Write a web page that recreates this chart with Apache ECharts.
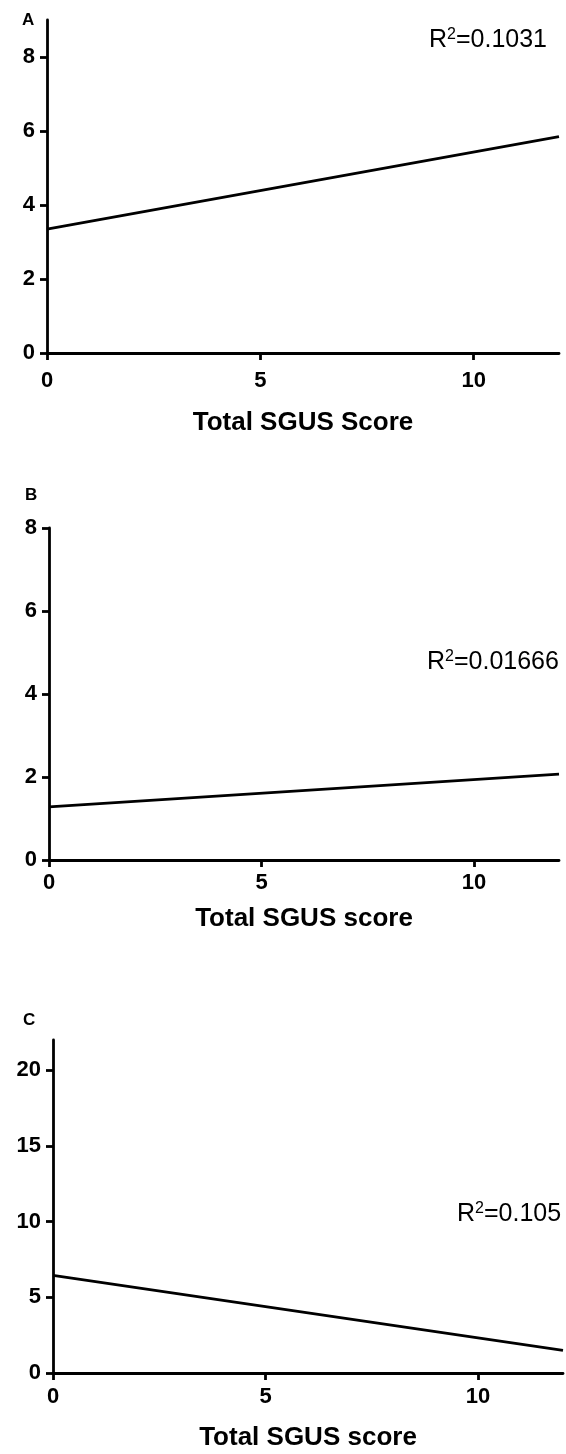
<!DOCTYPE html>
<html lang="en">
<head>
    <meta charset="UTF-8">
    <title>SGUS</title>
    <script src="https://cdn.jsdelivr.net/npm/echarts@6/dist/echarts.min.js"></script>
    <style>
        html,body{margin:0;padding:0;background:#fff;}
        #main{width:566px;height:1454px;}
    </style>
</head>
<body>
<div id="main"></div>
<script>
    // x ticks shared by all three panels
    var xTicks = [0, 5, 10];
    var xTitles = ['Total SGUS Score', 'Total SGUS score', 'Total SGUS score'];
    var panelNames = ['A', 'B', 'C'];
    var r2Text = ['0.1031', '0.01666', '0.105'];

    // regression lines, [x, y] at both ends
    var lineA = [[0, 3.35], [12, 5.85]];
    var lineB = [[0, 1.28], [12, 2.07]];
    var lineC = [[0, 6.45], [12, 1.5]];

    var yTicksA = [0, 2, 4, 6, 8];
    var yTicksB = [0, 2, 4, 6, 8];
    var yTicksC = [0, 5, 10, 15, 20];
    var yMax = [9, 8, 22];

    var lines = [lineA, lineB, lineC];
    var yTicks = [yTicksA, yTicksB, yTicksC];

    // outerBoundsMode none: keep the plot areas where they are set
    var grids = [
        {left: 47, top: 20, width: 512, height: 333, outerBoundsMode: 'none'},
        {left: 49, top: 528, width: 510, height: 332, outerBoundsMode: 'none'},
        {left: 53, top: 1040, width: 510, height: 333, outerBoundsMode: 'none'}
    ];
    var labelMargin = [17, 12, 13];
    var nameGap = [57, 46, 52];

    var black = {color: '#000', width: 2.8};
    var labelFont = {color: '#000', fontSize: 22, fontWeight: 'bold', fontFamily: 'Liberation Sans'};

    var xAxes = [], yAxes = [], series = [];
    for (var i = 0; i < 3; i++) {
        xAxes.push({
            gridIndex: i, type: 'value', min: 0, max: 12,
            name: xTitles[i], nameLocation: 'middle', nameGap: nameGap[i],
            nameTextStyle: {color: '#000', fontSize: 26, fontWeight: 'bold', fontFamily: 'Liberation Sans'},
            axisLine: {lineStyle: black},
            axisTick: {show: true, length: 7, lineStyle: black, customValues: xTicks},
            axisLabel: Object.assign({margin: labelMargin[i], customValues: xTicks}, labelFont),
            splitLine: {show: false}
        });
        yAxes.push({
            gridIndex: i, type: 'value', min: 0, max: yMax[i],
            axisLine: {show: true, lineStyle: black},
            axisTick: {show: true, length: 7, lineStyle: black, customValues: yTicks[i]},
            axisLabel: Object.assign({margin: 12, customValues: yTicks[i]}, labelFont),
            splitLine: {show: false}
        });
        series.push({
            type: 'line', xAxisIndex: i, yAxisIndex: i,
            data: lines[i], symbol: 'none', silent: true,
            lineStyle: black
        });
    }

    // panel letters and R² labels
    var graphics = [];
    var letterPos = [[22, 12], [25, 487], [23, 1012]];
    var r2Pos = [[429, 27], [427, 649], [457, 1201]];
    for (var j = 0; j < 3; j++) {
        graphics.push({
            type: 'text', left: letterPos[j][0], top: letterPos[j][1],
            style: {text: panelNames[j], fill: '#000', font: 'bold 17px "Liberation Sans"'}
        });
        graphics.push({
            type: 'text', left: r2Pos[j][0], top: r2Pos[j][1],
            style: {
                text: '{r|R}{s|2}{r|=' + r2Text[j] + '}',
                rich: {
                    r: {fontSize: 25, fontFamily: 'Liberation Sans', fill: '#000', verticalAlign: 'bottom'},
                    s: {fontSize: 16, fontFamily: 'Liberation Sans', fill: '#000', verticalAlign: 'top', padding: [0, 0, 10, 0]}
                }
            }
        });
    }

    var myChart = echarts.init(document.getElementById('main'));
    myChart.setOption({
        animation: false,
        grid: grids,
        xAxis: xAxes,
        yAxis: yAxes,
        series: series,
        graphic: graphics
    });
</script>
</body>
</html>
